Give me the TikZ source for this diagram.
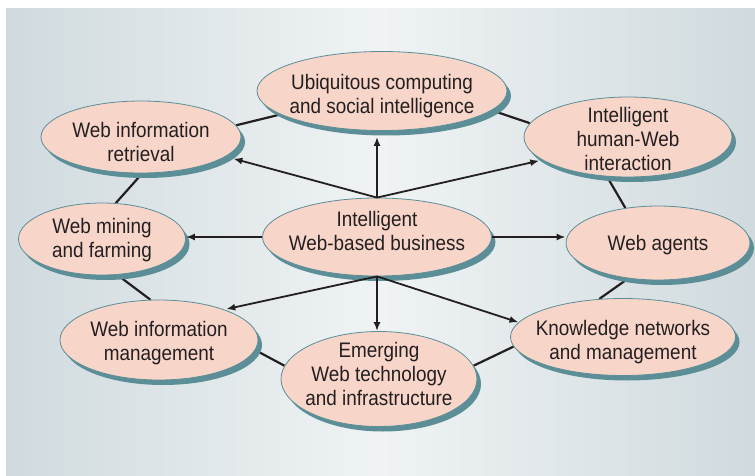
\documentclass[tikz,border=0pt]{standalone}
\usepackage{fontspec}
\setmainfont{Liberation Sans}[FakeStretch=0.9]
\usepackage{tikz}
\usetikzlibrary{shapes.geometric,shadows,arrows.meta}
\definecolor{color1}{RGB}{248, 213, 201}
\definecolor{color2}{RGB}{91, 142, 150}
\definecolor{color3}{RGB}{208, 218, 222}
\definecolor{color4}{RGB}{239, 243, 244}
\definecolor{color5}{RGB}{35, 31, 32}
\pgfdeclarelayer{bg}
\pgfsetlayers{bg,main}

\begin{document}
\begin{tikzpicture}[x=1pt, y=-1pt,
	topic/.style={ellipse, draw=color2, line width=0.8pt, fill=color1, inner sep=0pt,
		drop shadow={shadow xshift=4pt, shadow yshift=-5pt, fill=color2, opacity=1}},
	txt/.style={text=color5, align=center, inner sep=0pt, font=\fontsize{21}{24}\selectfont},
	link/.style={line width=2.2pt, color5},
	arr/.style={line width=1.8pt, color5, -{Latex[length=9pt,width=7pt]}}]
	\useasboundingbox (0,0) rectangle (755,476);
	\node[topic, minimum width=250pt, minimum height=79pt, label={[txt, yshift=-5.5pt]center:Ubiquitous computing\\and social intelligence}] (ubi) at (382,91) {};
	\node[topic, minimum width=200pt, minimum height=72pt, label={[txt, yshift=-4.5pt]center:Web information\\retrieval}] (wir) at (141,137) {};
	\node[topic, minimum width=208pt, minimum height=80pt, label={[txt, yshift=-1.5pt]center:Intelligent\\human-Web\\interaction}] (ihw) at (628,137) {};
	\node[topic, minimum width=167pt, minimum height=72pt, label={[txt, yshift=-1pt]center:Web mining\\and farming}] (wmf) at (102,239) {};
	\node[topic, minimum width=229pt, minimum height=78pt, label={[txt, yshift=6pt]center:Intelligent\\Web-based business}] (biz) at (377,237) {};
	\node[topic, minimum width=184pt, minimum height=74pt, label={[txt, yshift=-2pt]center:Web agents}] (wa) at (658,243) {};
	\node[topic, minimum width=198pt, minimum height=80pt, label={[txt, yshift=-3.5pt]center:Web information\\management}] (wim) at (159,340) {};
	\node[topic, minimum width=196pt, minimum height=95pt, label={[txt, yshift=5pt]center:Emerging\\Web technology\\and infrastructure}] (ewt) at (379,379) {};
	\node[topic, minimum width=225pt, minimum height=77pt, label={[txt, yshift=-5pt]center:Knowledge networks\\and management}] (knm) at (623,337) {};
	\begin{pgfonlayer}{bg}
		\shade[left color=color3, right color=color3, middle color=color4] (6,9) rectangle (755,476);
		\draw[link] (ubi.193) -- (wir.7);
		\draw[link] (ubi.-10) -- (ihw.172);
		\draw[link] (wir.-88) -- (wmf.69);
		\draw[link] (ihw.242) -- (wa.133);
		\draw[link] (wmf.-67) -- (wim.102);
		\draw[link] (wa.230) -- (knm.122);
		\draw[link] (wim.-6) -- (ewt.172);
		\draw[link] (ewt.8) -- (knm.185);
	\end{pgfonlayer}
	\draw[arr, shorten >=6pt] (biz.north) -- (biz.north |- ubi.south);
	\draw[arr, shorten >=8pt] (biz.north) -- (wir.-13);
	\draw[arr, shorten >=3pt] (biz.north) -- (ihw.195);
	\draw[arr] (biz.west) -- (biz.west -| wmf.east);
	\draw[arr] (biz.east) -- (biz.east -| wa.west);
	\draw[arr, shorten >=2pt] (biz.south) -- (wim.25);
	\draw[arr] (biz.south) -- (biz.south |- ewt.north);
	\draw[arr] (biz.south) -- (knm.172);
\end{tikzpicture}
\end{document}
